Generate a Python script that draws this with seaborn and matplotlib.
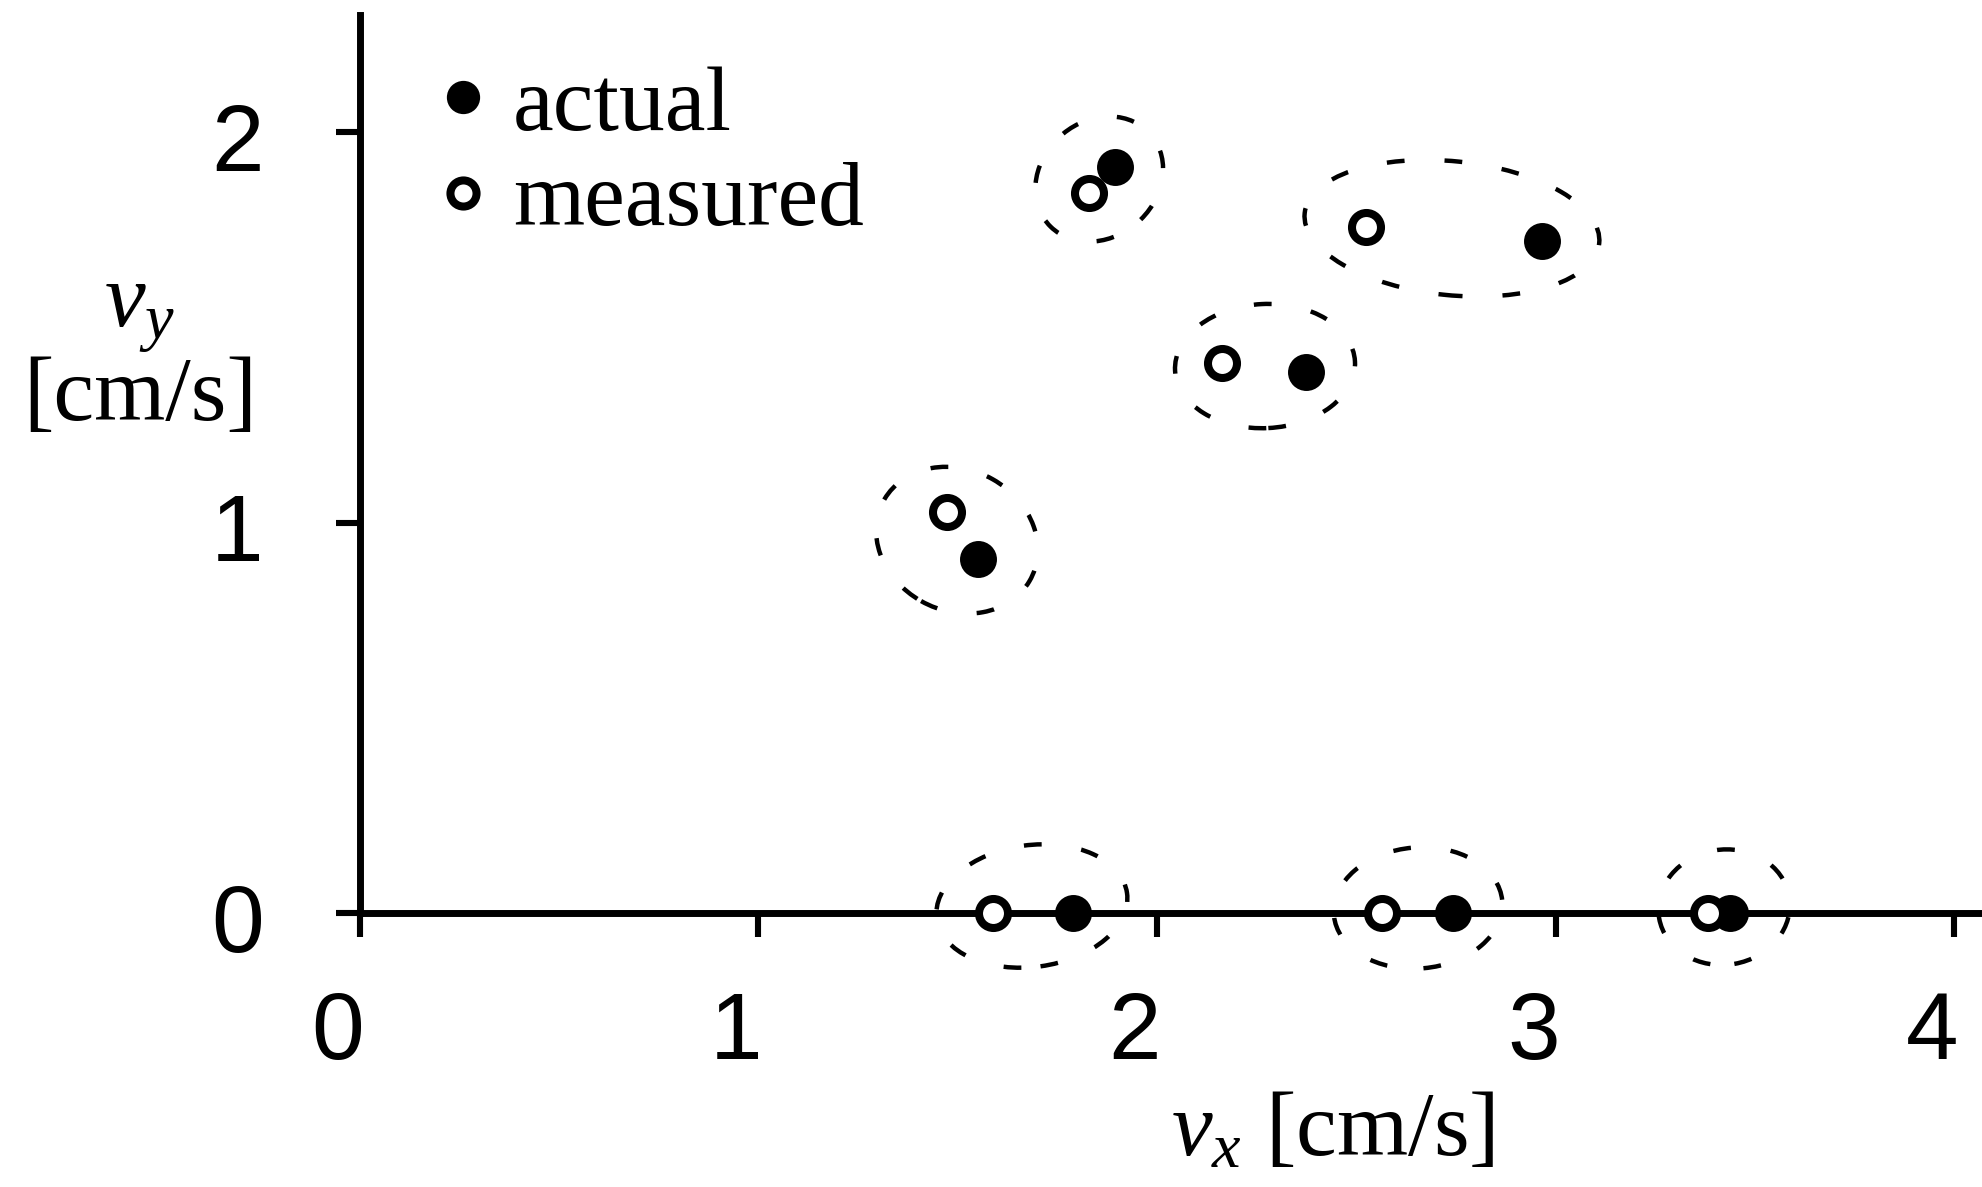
import pandas as pd
import matplotlib
matplotlib.use("Agg")
import matplotlib.pyplot as plt
import matplotlib.transforms as mtransforms
from matplotlib.patches import Ellipse
import seaborn as sns

# velocities [cm/s]
actual_vx = [1.895, 2.966, 2.374, 1.551, 1.789, 2.743, 3.438]
actual_vy = [1.910, 1.721, 1.385, 0.907, 0.0, 0.0, 0.0]
measured_vx = [1.829, 2.524, 2.163, 1.473, 1.588, 2.565, 3.383]
measured_vy = [1.844, 1.757, 1.408, 1.027, 0.0, 0.0, 0.0]

# dashed uncertainty ellipses
ell_cx = [1.855, 2.740, 2.271, 1.498, 1.686, 2.655, 3.423]
ell_cy = [1.880, 1.754, 1.401, 0.955, 0.018, 0.013, 0.015]
ell_w = [0.345, 0.743, 0.452, 0.420, 0.482, 0.424, 0.331]
ell_h = [0.294, 0.343, 0.318, 0.360, 0.312, 0.310, 0.295]
ell_angle = [45, -6, 3, -30, 8, 5, 10]

x_ticks = [0, 1, 2, 3, 4]
y_ticks = [0, 1, 2]

df_actual = pd.DataFrame({"vx": actual_vx, "vy": actual_vy})
df_measured = pd.DataFrame({"vx": measured_vx, "vy": measured_vy})

sns.set_style("ticks")
plt.rcParams["font.family"] = ["Liberation Serif", "DejaVu Serif"]
plt.rcParams["text.color"] = "black"
plt.rcParams["axes.labelcolor"] = "black"
plt.rcParams["mathtext.fontset"] = "custom"
plt.rcParams["mathtext.rm"] = "Liberation Serif"
plt.rcParams["mathtext.it"] = "Liberation Serif:italic"

fig = plt.figure(figsize=(9.91, 5.935), dpi=200)
ax = fig.add_axes([0.1816, 0.2308, 0.8184, 0.7565])

for i in range(len(ell_cx)):
    ax.add_patch(Ellipse((ell_cx[i], ell_cy[i]), ell_w[i], ell_h[i], angle=ell_angle[i],
                         fill=False, edgecolor="black", lw=1.6, linestyle=(0, (4, 9)),
                         clip_on=False, zorder=2))

sns.scatterplot(data=df_actual, x="vx", y="vy", ax=ax, s=177, color="black",
                edgecolor="black", linewidth=0, label="actual", zorder=4, clip_on=False)
sns.scatterplot(data=df_measured, x="vx", y="vy", ax=ax, s=109, color="white",
                edgecolor="black", linewidth=2.9, label="measured", zorder=5, clip_on=False)

ax.set_xlim(0, 4.07)
ax.set_ylim(0, 2.30)
ax.set_xticks(x_ticks)
ax.set_yticks(y_ticks)
ax.set_xticklabels([str(t) for t in x_ticks])
ax.set_yticklabels([str(t) for t in y_ticks])

sns.despine(ax=ax)
for side in ["left", "bottom"]:
    ax.spines[side].set_linewidth(2.5)
    ax.spines[side].set_color("black")

ax.tick_params(axis="both", direction="out", length=8.6, width=2.2, color="black",
               labelsize=34, labelcolor="black", labelfontfamily="Liberation Sans")
ax.tick_params(axis="x", pad=19)
ax.tick_params(axis="y", pad=26)

# the printed tick labels sit a little left / below their ticks
dx = mtransforms.ScaledTranslation(-8 / 72, 0, fig.dpi_scale_trans)
dy = mtransforms.ScaledTranslation(0, -1.5 / 72, fig.dpi_scale_trans)
for lab in ax.get_xticklabels():
    lab.set_transform(lab.get_transform() + dx)
for lab in ax.get_yticklabels():
    lab.set_transform(lab.get_transform() + dy)

ax.set_xlabel("$v_x$ [cm/s]", fontsize=33, color="black")
ax.xaxis.set_label_coords(0.600, -0.199)
ax.set_ylabel("$v_y$\n[cm/s]", fontsize=33, rotation=0, ha="center", va="center",
              linespacing=1.0, color="black")
ax.yaxis.set_label_coords(-0.1356, 0.620)

handles, labels = ax.get_legend_handles_labels()
leg = ax.legend(handles, labels, loc="upper left", bbox_to_anchor=(0.0407, 0.944),
                frameon=False, fontsize=33, handlelength=0.8, handletextpad=0.15,
                labelspacing=0.13, borderpad=0, borderaxespad=0, markerscale=0.9,
                scatteryoffsets=[0.5])
for t in leg.get_texts():
    t.set_color("black")

fig.savefig("out.png", dpi=200)
